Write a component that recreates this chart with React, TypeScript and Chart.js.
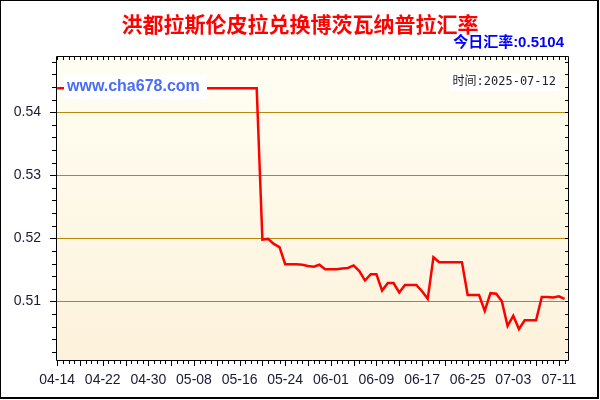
import React, { useRef, useEffect } from "react";
import { Chart, registerables, ChartOptions, Plugin } from "chart.js";

Chart.register(...registerables);

const title = "洪都拉斯伦皮拉兑换博茨瓦纳普拉汇率";
const todayRate = "今日汇率:0.5104";
const dateStamp = "时间:2025-07-12";
const watermark = "www.cha678.com";

// one point per day, 04-14 .. 07-12
const dates = [
  "04-14", "04-15", "04-16", "04-17", "04-18", "04-19", "04-20", "04-21", "04-22", "04-23",
  "04-24", "04-25", "04-26", "04-27", "04-28", "04-29", "04-30", "05-01", "05-02", "05-03",
  "05-04", "05-05", "05-06", "05-07", "05-08", "05-09", "05-10", "05-11", "05-12", "05-13",
  "05-14", "05-15", "05-16", "05-17", "05-18", "05-19", "05-20", "05-21", "05-22", "05-23",
  "05-24", "05-25", "05-26", "05-27", "05-28", "05-29", "05-30", "05-31", "06-01", "06-02",
  "06-03", "06-04", "06-05", "06-06", "06-07", "06-08", "06-09", "06-10", "06-11", "06-12",
  "06-13", "06-14", "06-15", "06-16", "06-17", "06-18", "06-19", "06-20", "06-21", "06-22",
  "06-23", "06-24", "06-25", "06-26", "06-27", "06-28", "06-29", "06-30", "07-01", "07-02",
  "07-03", "07-04", "07-05", "07-06", "07-07", "07-08", "07-09", "07-10", "07-11", "07-12",
];

const rates = [
  0.5438, 0.5438, 0.5438, 0.5438, 0.5438, 0.5438, 0.5438, 0.5438, 0.5438, 0.5438,
  0.5438, 0.5438, 0.5438, 0.5438, 0.5438, 0.5438, 0.5438, 0.5438, 0.5438, 0.5438,
  0.5438, 0.5438, 0.5438, 0.5438, 0.5438, 0.5438, 0.5438, 0.5438, 0.5438, 0.5438,
  0.5438, 0.5438, 0.5438, 0.5438, 0.5438, 0.5438, 0.5198, 0.5199, 0.5191, 0.5186,
  0.5159, 0.5159, 0.5159, 0.5158, 0.5156, 0.5155, 0.5158, 0.5151, 0.5151, 0.5151,
  0.5152, 0.5153, 0.5157, 0.5148, 0.5133, 0.5143, 0.5143, 0.5117, 0.5129, 0.5129,
  0.5114, 0.5126, 0.5126, 0.5126, 0.5116, 0.5104, 0.5170, 0.5162, 0.5162, 0.5162,
  0.5162, 0.5162, 0.5110, 0.5110, 0.5110, 0.5085, 0.5113, 0.5112, 0.5100, 0.5061,
  0.5077, 0.5056, 0.5070, 0.5070, 0.5070, 0.5107, 0.5107, 0.5106, 0.5108, 0.5104,
];

const yMin = 0.5007;
const yMax = 0.5489;
const yLabelValues = [0.51, 0.52, 0.53, 0.54];
const yLabels = ["0.51", "0.52", "0.53", "0.54"];
const xLabelEvery = 8;

// minor y ticks every 0.002
const yTicks: number[] = [];
for (let k = 251; k <= 274; k++) yTicks.push(k * 0.002);

const isMajorY = (v: number) => yLabelValues.some((m) => Math.abs(m - v) < 1e-6);

const chromePlugin: Plugin<"line"> = {
  id: "chrome",
  beforeDraw(chart) {
    const { ctx, chartArea: a } = chart;
    ctx.save();
    ctx.fillStyle = "#ffffff";
    ctx.fillRect(0, 0, chart.width, chart.height);
    const g = ctx.createLinearGradient(0, a.top, 0, a.bottom);
    g.addColorStop(0, "#fffef3");
    g.addColorStop(1, "#fdf2db");
    ctx.fillStyle = g;
    ctx.fillRect(a.left, a.top, a.right - a.left, a.bottom - a.top);
    ctx.restore();
  },
  afterDatasetsDraw(chart) {
    const { ctx, chartArea: a } = chart;
    const xs = chart.scales.x;
    const ys = chart.scales.y;
    ctx.save();

    // watermark over the line
    ctx.fillStyle = "#ffffff";
    ctx.fillRect(64, 75, 143, 24);
    ctx.fillStyle = "#4a6cf7";
    ctx.font = 'bold 16px "Liberation Sans", Arial, sans-serif';
    ctx.textAlign = "left";
    ctx.textBaseline = "middle";
    ctx.fillText(watermark, 67, 87);

    // date stamp
    ctx.fillStyle = "#ffffff";
    ctx.fillRect(450, 73, 109, 18);
    ctx.fillStyle = "#222222";
    ctx.font = '12px "DejaVu Sans Mono", "Noto Sans CJK SC", monospace';
    ctx.textAlign = "right";
    ctx.fillText(dateStamp, 556, 82);

    // frame and tick marks
    ctx.strokeStyle = "#000000";
    ctx.lineWidth = 1;
    ctx.beginPath();
    ctx.rect(Math.round(a.left) + 0.5, Math.round(a.top) + 0.5, Math.round(a.right - a.left), Math.round(a.bottom - a.top));
    for (let i = 0; i < dates.length; i++) {
      const px = Math.round(xs.getPixelForValue(i)) + 0.5;
      ctx.moveTo(px, a.top);
      ctx.lineTo(px, a.top + 4);
      ctx.moveTo(px, a.bottom);
      ctx.lineTo(px, a.bottom + (i % 4 === 0 ? 6 : 4));
    }
    for (const v of yTicks) {
      const py = Math.round(ys.getPixelForValue(v)) + 0.5;
      ctx.moveTo(a.left - (isMajorY(v) ? 6 : 4), py);
      ctx.lineTo(a.left, py);
      ctx.moveTo(a.right - 3, py);
      ctx.lineTo(a.right, py);
    }
    ctx.stroke();
    ctx.restore();
  },
  afterDraw(chart) {
    const { ctx } = chart;
    ctx.save();
    ctx.fillStyle = "#ff0000";
    ctx.font = 'bold 21px "Noto Sans CJK SC", sans-serif';
    ctx.textAlign = "center";
    ctx.textBaseline = "middle";
    ctx.fillText(title, 300, 24);

    ctx.fillStyle = "#0000ff";
    ctx.font = 'bold 15px "Liberation Sans", "Noto Sans CJK SC", sans-serif';
    ctx.textAlign = "right";
    ctx.fillText(todayRate, 564, 43);

    // outer border
    ctx.strokeStyle = "#000000";
    ctx.lineWidth = 1;
    ctx.strokeRect(0.5, 0.5, 597, 397);
    ctx.lineWidth = 2;
    ctx.beginPath();
    ctx.moveTo(598, 0);
    ctx.lineTo(598, 399);
    ctx.moveTo(0, 398);
    ctx.lineTo(599, 398);
    ctx.stroke();
    ctx.restore();
  },
};

export default function App() {
  const canvasRef = useRef<HTMLCanvasElement>(null);

  useEffect(() => {
    document.body.style.margin = "0";
    const ctx = canvasRef.current?.getContext("2d");
    if (!ctx) return;

    const labelFont = { family: '"Liberation Sans", Arial, sans-serif', size: 14 };

    const options: ChartOptions<"line"> = {
      responsive: false,
      animation: false,
      layout: { padding: { top: 56, right: 32, left: 0, bottom: 0 } },
      plugins: {
        legend: { display: false },
        tooltip: { enabled: false },
      },
      scales: {
        x: {
          type: "linear",
          min: -0.2,
          max: dates.length - 0.4,
          afterFit: (scale) => {
            scale.height = 40;
          },
          afterBuildTicks: (scale) => {
            scale.ticks = dates
              .map((_, i) => i)
              .filter((i) => i % xLabelEvery === 0)
              .map((i) => ({ value: i }));
          },
          ticks: {
            autoSkip: false,
            maxRotation: 0,
            padding: 12,
            color: "#1a1a33",
            font: labelFont,
            callback: (v) => dates[Number(v)] ?? "",
          },
          grid: { display: false, drawTicks: false },
          border: { display: false },
        },
        y: {
          min: yMin,
          max: yMax,
          afterFit: (scale) => {
            scale.width = 56;
          },
          afterBuildTicks: (scale) => {
            scale.ticks = yTicks.map((v) => ({ value: v }));
          },
          ticks: {
            autoSkip: false,
            padding: 15,
            color: "#1a1a33",
            font: labelFont,
            callback: (v) => {
              const k = yLabelValues.findIndex((m) => Math.abs(m - Number(v)) < 1e-6);
              return k >= 0 ? yLabels[k] : "";
            },
          },
          grid: {
            drawTicks: false,
            color: (c) => (isMajorY(c.tick.value) ? "#b8860b" : "rgba(0,0,0,0)"),
            lineWidth: 1,
          },
          border: { display: false },
        },
      },
    };

    const chart = new Chart(ctx, {
      type: "line",
      data: {
        datasets: [
          {
            data: rates.map((r, i) => ({ x: i, y: r })),
            borderColor: "#ff0000",
            borderWidth: 2.5,
            pointRadius: 0,
            tension: 0,
          },
        ],
      },
      options,
      plugins: [chromePlugin],
    });

    return () => chart.destroy();
  }, []);

  return (
    <div style={{ width: 600, height: 400 }}>
      <canvas ref={canvasRef} width={600} height={400}></canvas>
    </div>
  );
}
